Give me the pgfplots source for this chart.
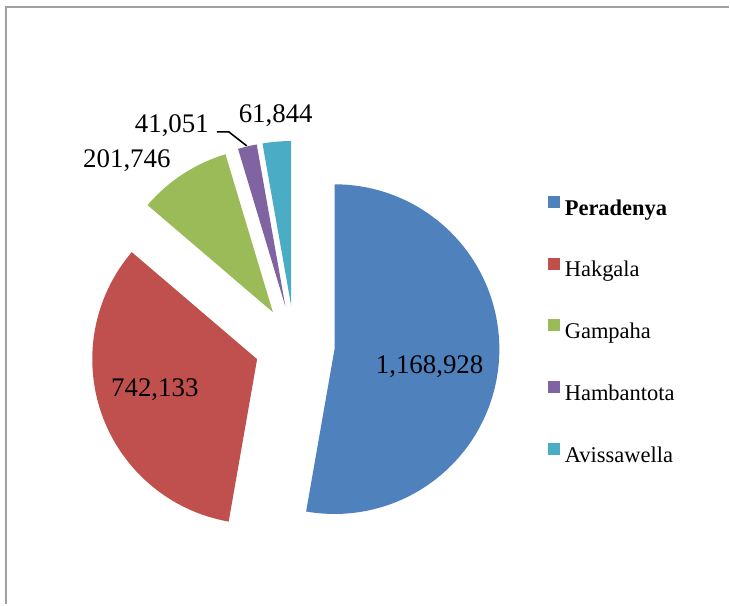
\documentclass[border=0pt]{standalone}
\usepackage{fontspec}
\setmainfont{Liberation Serif}
\usepackage{pgfplots}
\pgfplotsset{compat=1.18}

\definecolor{cPer}{HTML}{4F81BD}
\definecolor{cHak}{HTML}{C0504D}
\definecolor{cGam}{HTML}{9BBB59}
\definecolor{cHam}{HTML}{8064A2}
\definecolor{cAvi}{HTML}{4BACC6}
\definecolor{frame}{HTML}{A0A0A0}

% values
\def\vP{1168928}
\def\vH{742133}
\def\vG{201746}
\def\vB{41051}
\def\vA{61844}
\edef\tot{\fpeval{\vP+\vH+\vG+\vB+\vA}}

% slice boundaries, clockwise from 12 o'clock
\edef\bP{\fpeval{90-360*\vP/\tot}}
\edef\bH{\fpeval{\bP-360*\vH/\tot}}
\edef\bG{\fpeval{\bH-360*\vG/\tot}}
\edef\bB{\fpeval{\bG-360*\vB/\tot}}
\edef\bA{\fpeval{\bB-360*\vA/\tot}}

% centre, radius, explosion (in picture pixels)
\def\cx{295}
\def\cy{346}
\def\rad{165}
\def\expl{40}
\newcommand\apex[4]{% name, start, end
  \expandafter\edef\csname px#1\endcsname{\fpeval{\cx+\expl*cosd((#2+#3)/2)}}%
  \expandafter\edef\csname py#1\endcsname{\fpeval{\cy-\expl*sind((#2+#3)/2)}}}
\apex{P}{\bP}{90}{}
\apex{H}{\bH}{\bP}{}
\apex{G}{\bG}{\bH}{}
\apex{B}{\bB}{\bG}{}
\apex{A}{\bA}{\bB}{}

\begin{document}
\begin{tikzpicture}
\begin{axis}[
  width=14.6cm, height=12.1cm, scale only axis,
  xmin=0, xmax=730, ymin=0, ymax=605, y dir=reverse,
  hide axis, clip=false,
  legend image code/.code={\path (0cm,0cm) (0.34cm,0cm);
    \fill[#1] (0cm,0.04cm) rectangle (0.24cm,0.28cm);},
  legend style={draw=none, fill=none, at={(axis cs:548,332)}, anchor=west,
    inner sep=0pt, row sep=21.2pt,
    nodes={inner sep=0pt, text height=9pt, text depth=3pt, font=\fontsize{12.8}{15}\selectfont}},
  legend cell align=left,
]
\path (axis cs:0,0) rectangle (axis cs:730,605);
\draw[frame, line width=0.8pt] (axis cs:5,7) -- (axis cs:730,7);
\draw[frame, line width=1.2pt] (axis cs:6,7) -- (axis cs:6,605);

\addplot[fill=cPer, draw=none, domain=\bP:90, samples=90]
  ({\pxP+\rad*cos(x)}, {\pyP-\rad*sin(x)}) -- (axis cs:\pxP,\pyP) -- cycle;
\addlegendentry{\textbf{Peradenya}}
\addplot[fill=cHak, draw=none, domain=\bH:\bP, samples=70]
  ({\pxH+\rad*cos(x)}, {\pyH-\rad*sin(x)}) -- (axis cs:\pxH,\pyH) -- cycle;
\addlegendentry{Hakgala}
\addplot[fill=cGam, draw=none, domain=\bG:\bH, samples=30]
  ({\pxG+\rad*cos(x)}, {\pyG-\rad*sin(x)}) -- (axis cs:\pxG,\pyG) -- cycle;
\addlegendentry{Gampaha}
\addplot[fill=cHam, draw=none, domain=\bB:\bG, samples=10]
  ({\pxB+\rad*cos(x)}, {\pyB-\rad*sin(x)}) -- (axis cs:\pxB,\pyB) -- cycle;
\addlegendentry{Hambantota}
\addplot[fill=cAvi, draw=none, domain=\bA:\bB, samples=12]
  ({\pxA+\rad*cos(x)}, {\pyA-\rad*sin(x)}) -- (axis cs:\pxA,\pyA) -- cycle;
\addlegendentry{Avissawella}

\begin{scope}[every node/.style={font=\fontsize{15.3}{18}\selectfont, inner sep=0pt}]
\node at (axis cs:430,367) {1,168,928};
\node at (axis cs:155,390) {742,133};
\node at (axis cs:127,161) {201,746};
\node at (axis cs:172,126) {41,051};
\node at (axis cs:276,116) {61,844};
\end{scope}
\draw[line width=0.9pt] (axis cs:217,132) -- (axis cs:229,132) -- (axis cs:247,146);
\end{axis}
\end{tikzpicture}
\end{document}
